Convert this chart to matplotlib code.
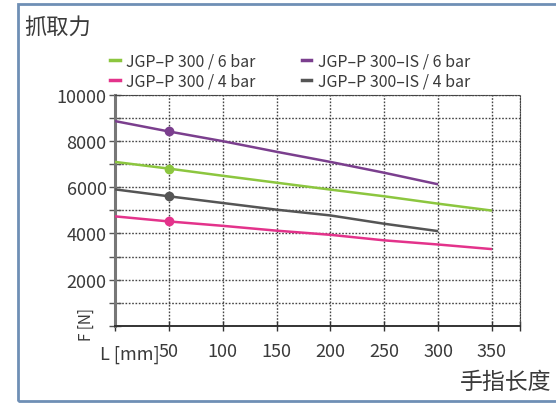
import matplotlib.pyplot as plt
from matplotlib.patches import Rectangle
from matplotlib.lines import Line2D

plt.rcParams['font.family'] = ['Noto Sans CJK SC', 'DejaVu Sans']

# finger length (mm) and gripping force (N)
L_350 = [0, 50, 100, 150, 200, 250, 300, 350]
L_300 = [0, 50, 100, 150, 200, 250, 300]
p300_6bar = [7100, 6810, 6500, 6200, 5900, 5610, 5290, 4990]
p300_4bar = [4740, 4520, 4330, 4120, 3940, 3700, 3520, 3320]
p300is_6bar = [8870, 8420, 8000, 7540, 7100, 6630, 6130]
p300is_4bar = [5910, 5610, 5320, 5030, 4780, 4420, 4100]
marker_L = 50

series = [
    ("JGP–P 300 / 6 bar", L_350, p300_6bar, '#8cc63f'),
    ("JGP–P 300–IS / 6 bar", L_300, p300is_6bar, '#7b3f8e'),
    ("JGP–P 300 / 4 bar", L_350, p300_4bar, '#e3338b'),
    ("JGP–P 300–IS / 4 bar", L_300, p300is_4bar, '#555555'),
]

x_ticks = [0, 50, 100, 150, 200, 250, 300, 350, 376]
x_labels = ['', '50', '100', '150', '200', '250', '300', '350', '']
y_ticks = list(range(0, 10001, 1000))
y_labels = [str(v) if v % 2000 == 0 and v > 0 else '' for v in y_ticks]

text_col = '#3a3a3a'

fig = plt.figure(figsize=(5.56, 4.06), dpi=100)
ax = fig.add_axes([0.2068, 0.1953, 0.7284, 0.5682])

for name, xs, ys, col in series:
    ax.plot(xs, ys, color=col, lw=1.8, solid_capstyle='butt', zorder=3)
    i = xs.index(marker_L)
    ax.plot([xs[i]], [ys[i]], 'o', color=col, ms=6, zorder=4)

ax.set_xlim(0, 376)
ax.set_ylim(0, 10000)
ax.set_xticks(x_ticks)
ax.set_xticklabels(x_labels)
ax.set_yticks(y_ticks)
ax.set_yticklabels(y_labels)
ax.grid(True, linestyle=(0, (1.2, 1.2)), color='#444444', lw=1.0)
ax.tick_params(axis='x', direction='inout', length=7, width=1, colors='#333333',
               labelsize=13, labelcolor=text_col, pad=8)
ax.tick_params(axis='y', direction='inout', length=8, width=1, colors='#555555',
               labelsize=13, labelcolor=text_col, pad=2)
for s in ['top', 'right']:
    ax.spines[s].set_linestyle((0, (1.2, 1.2)))
    ax.spines[s].set_color('#444444')
ax.spines['left'].set_color('#777777')
ax.spines['left'].set_linewidth(2.2)
ax.spines['bottom'].set_color('#333333')
ax.spines['bottom'].set_linewidth(1.4)

# axis labels as free text
fig.text(160 / 556, 1 - 355 / 406, 'L [mm]', ha='right', va='center', fontsize=13, color=text_col)
fig.text(86 / 556, 1 - 325 / 406, 'F [N]', ha='center', va='center', rotation=90,
         fontsize=11, color=text_col)
fig.text(551 / 556, 1 - 382 / 406, '手指长度', ha='right', va='center', fontsize=16.5,
         color=text_col)
fig.text(24 / 556, 1 - 27 / 406, '抓取力', ha='left', va='center', fontsize=16,
         color=text_col)

handles = [Line2D([], [], color=c, lw=2.5) for _, _, _, c in series]
labels = [n for n, _, _, _ in series]
order = [0, 2, 1, 3]
leg = fig.legend([handles[i] for i in order], [labels[i] for i in order], ncol=2,
                 loc='center left', bbox_to_anchor=(102 / 556, 1 - 72 / 406), frameon=False,
                 fontsize=11.5, handlelength=0.6, handletextpad=0.4, columnspacing=2.9,
                 labelspacing=0.2, borderpad=0, labelcolor=text_col)

# outer frame, open on the right
fig.patches.append(Rectangle((18 / 556, 1 - 402 / 406), 1.0, (402 - 5) / 406,
                             transform=fig.transFigure, fill=False, edgecolor='#6f8fb5',
                             lw=2, clip_on=False))

fig.savefig('out.png', dpi=100)
